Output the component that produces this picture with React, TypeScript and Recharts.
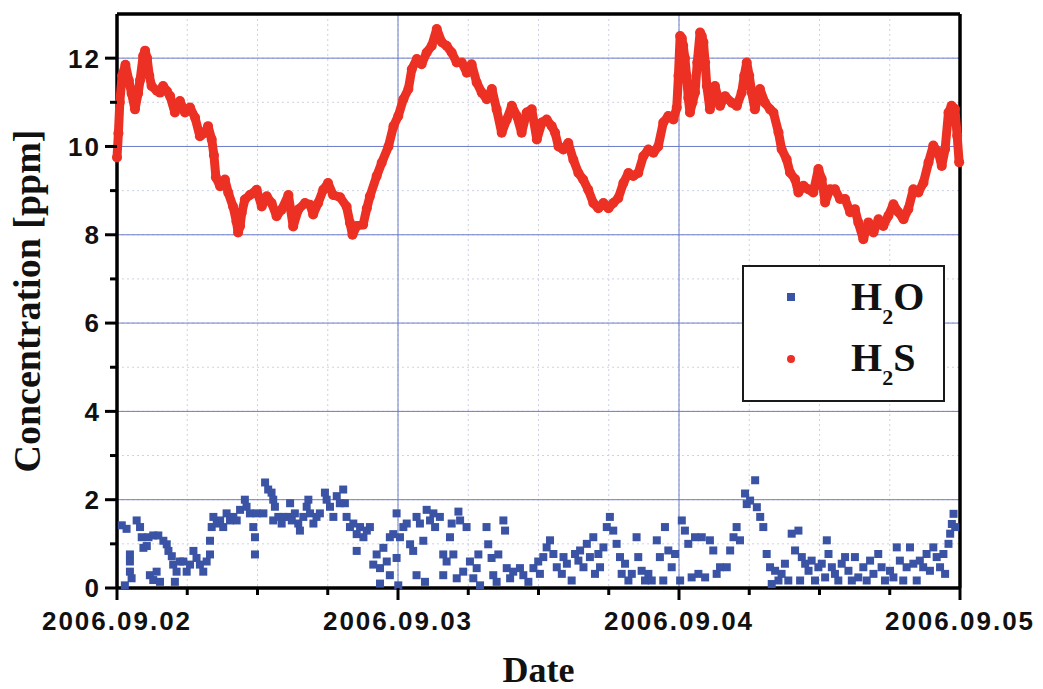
import React from 'react';
import { ScatterChart, Scatter, XAxis, YAxis, CartesianGrid, ReferenceLine, Legend } from 'recharts';

// x = days since 2006.09.02 00:00, y = ppm
const dayLabels = ['2006.09.02', '2006.09.03', '2006.09.04', '2006.09.05'];
const xTicks = [0, 0.25, 0.5, 0.75, 1, 1.25, 1.5, 1.75, 2, 2.25, 2.5, 2.75, 3];
const yTicks = [0, 1, 2, 3, 4, 5, 6, 7, 8, 9, 10, 11, 12];
const xMajor = [1, 2];
const yMajor = [2, 4, 6, 8, 10, 12];

const h2sPoints: [number, number][] = [
  [0.0, 9.75], [0.005, 10.3], [0.01, 11.0], [0.018, 11.6], [0.03, 11.85], [0.042, 11.5], [0.052, 11.2],
  [0.064, 10.84], [0.075, 11.2], [0.082, 11.5], [0.093, 12.05], [0.1, 12.17], [0.107, 12.0], [0.115, 11.6],
  [0.123, 11.37], [0.142, 11.26], [0.153, 11.22], [0.164, 11.37], [0.178, 11.25], [0.189, 11.14],
  [0.206, 10.77], [0.224, 11.03], [0.242, 10.77], [0.26, 10.88], [0.278, 10.65], [0.295, 10.23],
  [0.313, 10.31], [0.324, 10.46], [0.337, 10.16], [0.345, 9.8], [0.352, 9.3], [0.367, 9.1], [0.384, 9.25],
  [0.396, 8.95], [0.413, 8.64], [0.425, 8.3], [0.431, 8.05], [0.438, 8.2], [0.444, 8.5], [0.455, 8.8],
  [0.473, 8.9], [0.497, 9.02], [0.515, 8.64], [0.533, 8.87], [0.55, 8.72], [0.568, 8.42], [0.586, 8.57],
  [0.61, 8.9], [0.627, 8.19], [0.645, 8.57], [0.669, 8.72], [0.687, 8.68], [0.698, 8.46], [0.716, 8.72],
  [0.734, 9.02], [0.751, 9.17], [0.769, 8.9], [0.794, 8.85], [0.817, 8.64], [0.829, 8.27], [0.838, 8.0],
  [0.853, 8.2], [0.876, 8.23], [0.889, 8.6], [0.9, 8.87], [0.924, 9.33], [0.942, 9.63], [0.966, 10.0],
  [0.984, 10.46], [1.001, 10.69], [1.019, 11.07], [1.037, 11.3], [1.049, 11.75], [1.067, 11.98],
  [1.084, 11.86], [1.102, 12.13], [1.12, 12.28], [1.138, 12.66], [1.156, 12.36], [1.173, 12.28],
  [1.191, 12.13], [1.209, 11.9], [1.227, 11.9], [1.245, 11.67], [1.262, 11.86], [1.28, 11.45],
  [1.298, 11.22], [1.316, 11.07], [1.334, 11.3], [1.351, 10.84], [1.369, 10.31], [1.387, 10.61],
  [1.405, 10.92], [1.423, 10.69], [1.44, 10.31], [1.458, 10.77], [1.476, 10.84], [1.494, 10.16],
  [1.512, 10.54], [1.529, 10.61], [1.547, 10.46], [1.559, 10.31], [1.571, 10.0], [1.588, 9.93],
  [1.606, 10.08], [1.624, 9.7], [1.642, 9.4], [1.659, 9.25], [1.677, 9.02], [1.695, 8.72], [1.713, 8.6],
  [1.731, 8.72], [1.749, 8.6], [1.766, 8.72], [1.784, 8.83], [1.802, 9.17], [1.82, 9.4], [1.837, 9.33],
  [1.855, 9.4], [1.873, 9.78], [1.891, 9.93], [1.909, 9.86], [1.926, 10.0], [1.944, 10.54], [1.962, 10.69],
  [1.98, 10.61], [1.992, 10.88], [1.998, 11.6], [2.004, 12.5], [2.01, 12.45], [2.015, 12.28], [2.021, 12.0],
  [2.027, 11.6], [2.033, 11.1], [2.039, 10.77], [2.048, 11.0], [2.057, 11.22], [2.065, 11.9], [2.075, 12.58],
  [2.081, 12.5], [2.087, 12.36], [2.093, 11.9], [2.099, 11.37], [2.11, 10.84], [2.128, 11.37], [2.146, 10.92],
  [2.164, 11.14], [2.188, 10.99], [2.206, 10.92], [2.223, 11.22], [2.232, 11.6], [2.241, 11.9], [2.25, 11.6],
  [2.259, 11.22], [2.27, 10.84], [2.288, 11.3], [2.306, 10.99], [2.324, 10.84], [2.336, 10.77], [2.354, 10.32],
  [2.365, 9.94], [2.383, 9.71], [2.395, 9.41], [2.413, 9.26], [2.425, 8.96], [2.443, 9.11], [2.46, 9.03],
  [2.478, 8.96], [2.496, 9.49], [2.508, 9.26], [2.52, 8.73], [2.537, 9.03], [2.555, 9.03], [2.573, 8.81],
  [2.591, 8.81], [2.609, 8.51], [2.626, 8.58], [2.638, 8.28], [2.656, 7.9], [2.674, 8.28], [2.692, 8.05],
  [2.71, 8.35], [2.727, 8.2], [2.745, 8.43], [2.763, 8.69], [2.781, 8.51], [2.799, 8.35], [2.816, 8.58],
  [2.834, 9.03], [2.852, 8.96], [2.87, 9.18], [2.888, 9.64], [2.905, 10.02], [2.923, 9.86], [2.935, 9.56],
  [2.947, 9.94], [2.959, 10.77], [2.97, 10.92], [2.982, 10.85], [2.99, 10.24], [2.997, 9.64],
];

const h2oPoints: [number, number][] = [
  [0.017, 1.42], [0.028, 0.06], [0.034, 1.34], [0.046, 0.76], [0.046, 0.6], [0.046, 0.37], [0.052, 0.22],
  [0.07, 1.53], [0.082, 1.38], [0.088, 1.15], [0.094, 0.91], [0.106, 0.95], [0.112, 1.15], [0.117, 0.29],
  [0.129, 1.19], [0.129, 0.18], [0.141, 0.37], [0.147, 1.19], [0.153, 0.14], [0.165, 1.07], [0.177, 0.99],
  [0.183, 0.84], [0.195, 0.72], [0.2, 0.53], [0.206, 0.14], [0.212, 0.37], [0.224, 0.6], [0.236, 0.6],
  [0.248, 0.37], [0.26, 0.53], [0.272, 0.84], [0.283, 0.68], [0.295, 0.53], [0.307, 0.37], [0.319, 0.6],
  [0.331, 0.76], [0.331, 1.07], [0.337, 1.38], [0.343, 1.61], [0.355, 1.46], [0.367, 1.53], [0.378, 1.38],
  [0.39, 1.69], [0.402, 1.53], [0.414, 1.61], [0.426, 1.53], [0.438, 1.77], [0.455, 2.0], [0.461, 1.84],
  [0.473, 1.69], [0.485, 1.38], [0.491, 1.15], [0.491, 0.76], [0.497, 1.69], [0.521, 1.69], [0.527, 2.39],
  [0.538, 2.23], [0.55, 2.16], [0.556, 2.0], [0.562, 1.84], [0.556, 1.53], [0.574, 1.61], [0.586, 1.46],
  [0.592, 1.61], [0.61, 1.61], [0.616, 1.92], [0.622, 1.53], [0.633, 1.69], [0.645, 1.46], [0.651, 1.3],
  [0.663, 1.61], [0.675, 1.84], [0.681, 2.0], [0.687, 1.69], [0.699, 1.46], [0.71, 1.61], [0.722, 1.69],
  [0.74, 2.16], [0.746, 2.0], [0.758, 1.84], [0.77, 1.61], [0.782, 2.08], [0.793, 1.92], [0.805, 2.23],
  [0.811, 1.92], [0.817, 1.61], [0.829, 1.38], [0.841, 1.46], [0.853, 1.22], [0.853, 0.84], [0.865, 1.38],
  [0.877, 1.15], [0.889, 1.3], [0.9, 1.38], [0.912, 0.53], [0.924, 0.76], [0.936, 0.45], [0.936, 0.1],
  [0.948, 0.91], [0.96, 0.6], [0.971, 0.29], [0.971, 1.15], [0.983, 1.22], [0.995, 1.69], [1.001, 0.06],
  [0.995, 0.68], [1.007, 1.15], [1.019, 1.38], [1.031, 1.46], [1.043, 0.99], [1.054, 0.84], [1.066, 0.29],
  [1.066, 1.61], [1.078, 1.46], [1.09, 1.07], [1.096, 0.14], [1.102, 1.77], [1.114, 1.53], [1.126, 1.69],
  [1.132, 1.38], [1.149, 1.61], [1.161, 0.76], [1.161, 0.29], [1.173, 0.6], [1.185, 1.15], [1.191, 1.46],
  [1.197, 0.76], [1.209, 0.22], [1.215, 1.73], [1.221, 1.53], [1.232, 0.37], [1.244, 1.38], [1.256, 0.6],
  [1.268, 0.22], [1.28, 0.45], [1.286, 0.76], [1.292, 0.06], [1.315, 1.38], [1.321, 0.99], [1.333, 0.68],
  [1.339, 0.29], [1.351, 0.14], [1.357, 0.76], [1.375, 1.53], [1.381, 1.3], [1.387, 0.45], [1.399, 0.22],
  [1.41, 0.37], [1.434, 0.45], [1.446, 0.29], [1.464, 0.14], [1.482, 0.45], [1.499, 0.6],
  [1.505, 0.32], [1.517, 0.7], [1.529, 0.92], [1.541, 1.08], [1.553, 0.77], [1.565, 0.47], [1.583, 0.32],
  [1.589, 0.7], [1.601, 0.55], [1.618, 0.17], [1.63, 0.77], [1.642, 0.62], [1.648, 0.85], [1.66, 0.47],
  [1.672, 1.0], [1.683, 0.7], [1.695, 1.15], [1.701, 0.32], [1.713, 0.77], [1.719, 0.47], [1.731, 0.92],
  [1.743, 1.38], [1.754, 1.61], [1.766, 1.3], [1.778, 1.0], [1.79, 0.7], [1.796, 0.32], [1.808, 0.55],
  [1.82, 0.17], [1.832, 0.32], [1.849, 1.15], [1.855, 0.7], [1.867, 0.39], [1.879, 0.17], [1.891, 0.32],
  [1.903, 0.17], [1.921, 1.08], [1.932, 0.7], [1.944, 0.17], [1.95, 1.38], [1.962, 0.85], [1.974, 0.47],
  [1.986, 0.77], [2.004, 0.17], [2.01, 1.53], [2.021, 1.3], [2.033, 1.0], [2.045, 0.24], [2.057, 1.15],
  [2.069, 0.32], [2.081, 1.15], [2.093, 0.24], [2.11, 1.08], [2.122, 0.85], [2.134, 0.32], [2.146, 0.47],
  [2.17, 0.47], [2.182, 0.85], [2.194, 1.15], [2.205, 1.38], [2.217, 1.08], [2.235, 2.14], [2.241, 1.9],
  [2.253, 1.98], [2.271, 2.44], [2.277, 1.83], [2.289, 1.61], [2.3, 1.38], [2.312, 0.77], [2.324, 0.47],
  [2.33, 0.09], [2.342, 0.39], [2.354, 0.17],
  [2.365, 0.32], [2.377, 0.55], [2.389, 0.17], [2.401, 1.23], [2.413, 0.85], [2.425, 1.3], [2.431, 0.17],
  [2.437, 0.7], [2.449, 0.55], [2.461, 0.39], [2.472, 0.62], [2.484, 0.17], [2.496, 0.47], [2.508, 0.55],
  [2.52, 0.24], [2.526, 1.08], [2.532, 0.77], [2.544, 0.47], [2.555, 0.32], [2.567, 0.17], [2.579, 0.55],
  [2.591, 0.7], [2.603, 0.39], [2.615, 0.17], [2.626, 0.7], [2.638, 0.24], [2.656, 0.47], [2.668, 0.17],
  [2.68, 0.62], [2.692, 0.32], [2.709, 0.77], [2.721, 0.47], [2.733, 0.17], [2.751, 0.39], [2.763, 0.24],
  [2.775, 0.92], [2.786, 0.62], [2.798, 0.17], [2.81, 0.47], [2.822, 0.92], [2.834, 0.55], [2.846, 0.17],
  [2.857, 0.62], [2.869, 0.47], [2.881, 0.77], [2.893, 0.39], [2.905, 0.92], [2.917, 0.7], [2.929, 0.47],
  [2.941, 0.77], [2.947, 0.32], [2.959, 1.0], [2.965, 1.23], [2.971, 1.45], [2.977, 1.68], [2.983, 1.38],
];

const RED = '#ec3124';
const BLUE = '#3a53a4';
const SANS = '"Liberation Sans", Arial, sans-serif';
const SERIF = '"Liberation Serif", "Times New Roman", serif';

const h2sData = h2sPoints.map(([t, v]) => ({ t, v }));
const h2oData = h2oPoints.map(([t, v]) => ({ t, v }));

const XTick = (props: any) => {
  const { x, y, payload } = props;
  const v = payload.value;
  const major = Number.isInteger(v);
  return (
    <g>
      <line x1={x} x2={x} y1={y} y2={y + (major ? 12 : 7)} stroke="#000" strokeWidth={3} />
      {major && (
        <text x={x} y={y + 42} textAnchor="middle" fontFamily={SANS} fontWeight="bold" fontSize={26} letterSpacing={2} fill="#111">
          {dayLabels[v]}
        </text>
      )}
    </g>
  );
};

const YTick = (props: any) => {
  const { x, y, payload } = props;
  const v = payload.value;
  const major = v % 2 === 0;
  return (
    <g>
      <line x1={x} x2={x - (major ? 12 : 7)} y1={y} y2={y} stroke="#000" strokeWidth={3} />
      {major && (
        <text x={x - 16} y={y} dy="0.36em" textAnchor="end" fontFamily={SANS} fontWeight="bold" fontSize={26} letterSpacing={2} fill="#111">
          {v}
        </text>
      )}
    </g>
  );
};

const XLabel = (props: any) => {
  const vb = props.viewBox || { x: 117, y: 588, width: 843, height: 101 };
  return (
    <text x={vb.x + vb.width / 2} y={vb.y + 94} textAnchor="middle" fontFamily={SERIF} fontWeight="bold" fontSize={36} fill="#111">
      Date
    </text>
  );
};

const YLabel = (props: any) => {
  const vb = props.viewBox || { x: 0, y: 14, width: 117, height: 574 };
  const cx = vb.x + 40;
  const cy = vb.y + vb.height / 2;
  return (
    <text x={cx} y={cy} transform={`rotate(-90, ${cx}, ${cy})`} textAnchor="middle" fontFamily={SERIF} fontWeight="bold" fontSize={38} fill="#111">
      Concentration [ppm]
    </text>
  );
};

const legendRows = [
  { base: 'H', sub: '2', tail: 'O', color: BLUE, square: true },
  { base: 'H', sub: '2', tail: 'S', color: RED, square: false },
];

const renderLegend = () => (
  <div
    style={{
      width: 203,
      height: 137,
      border: '2px solid #1a1a1a',
      boxSizing: 'border-box',
      background: '#fff',
      position: 'relative',
      fontFamily: SERIF,
      fontWeight: 'bold',
      color: '#111',
    }}
  >
    {legendRows.map((r, i) => (
      <React.Fragment key={i}>
        <div
          style={{
            position: 'absolute',
            left: 43,
            top: 26 + i * 62,
            width: 8,
            height: 8,
            background: r.color,
            borderRadius: r.square ? 0 : 4,
          }}
        />
        <div style={{ position: 'absolute', left: 107, top: 10 + i * 61, fontSize: 40, lineHeight: '40px', whiteSpace: 'nowrap' }}>
          {r.base}
          <span style={{ fontSize: 22, position: 'relative', top: 14 }}>{r.sub}</span>
          {r.tail}
        </div>
      </React.Fragment>
    ))}
  </div>
);

const Square = (p: any) => <rect x={p.cx - 4} y={p.cy - 4} width={8} height={8} fill={BLUE} />;
const Dot = (p: any) => <circle cx={p.cx} cy={p.cy} r={5} fill={RED} />;

export default function App() {
  return (
    <div style={{ position: 'absolute', left: 0, top: 0, width: 1043, height: 689, background: '#fff' }}>
      <ScatterChart width={1043} height={689} margin={{ top: 14, right: 83, bottom: 0, left: 0 }}>
        <CartesianGrid stroke="#cdd2e3" strokeDasharray="2 3" />
        <CartesianGrid stroke="#6c7dc8" horizontalValues={yMajor} verticalValues={xMajor} />
        <XAxis
          type="number"
          dataKey="t"
          domain={[0, 3]}
          ticks={xTicks}
          interval={0}
          tickSize={0}
          tickMargin={0}
          tickLine={false}
          tick={XTick}
          height={101}
          axisLine={{ stroke: '#000', strokeWidth: 3.5 }}
          label={XLabel}
        />
        <YAxis
          type="number"
          dataKey="v"
          domain={[0, 13]}
          ticks={yTicks}
          interval={0}
          tickSize={0}
          tickMargin={0}
          tickLine={false}
          tick={YTick}
          width={117}
          axisLine={{ stroke: '#000', strokeWidth: 3.5 }}
          label={YLabel}
        />
        <ReferenceLine y={13} stroke="#000" strokeWidth={3.5} />
        <ReferenceLine x={3} stroke="#000" strokeWidth={3.5} />
        <Scatter name="H2O" data={h2oData} fill={BLUE} shape={Square} isAnimationActive={false} />
        <Scatter
          name="H2S"
          data={h2sData}
          fill={RED}
          shape={Dot}
          line={{ stroke: RED, strokeWidth: 9, strokeLinejoin: 'round' }}
          lineType="joint"
          isAnimationActive={false}
        />
        <Legend
          layout="vertical"
          align="center"
          verticalAlign="middle"
          content={renderLegend}
          wrapperStyle={{ left: 742, top: 265, width: 203, height: 137 }}
        />
      </ScatterChart>
    </div>
  );
}
